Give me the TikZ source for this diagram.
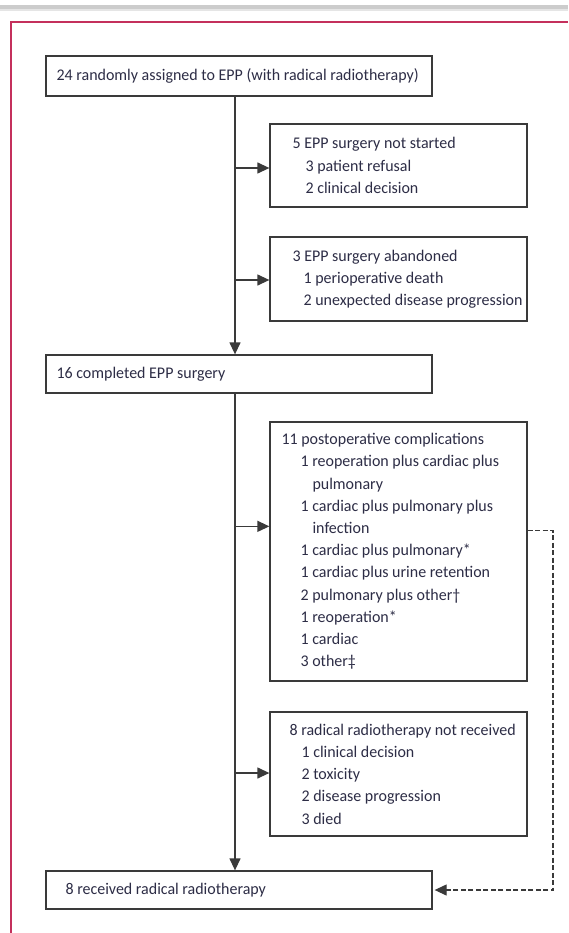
\documentclass[tikz,border=0pt]{standalone}
\usepackage{fontspec}
\setmainfont{Carlito}[FakeStretch=0.98]
\usetikzlibrary{arrows.meta,calc}
\definecolor{frame}{RGB}{196,48,92}
\definecolor{ink}{RGB}{45,45,70}
\definecolor{edge}{RGB}{58,58,58}
\begin{document}
\begin{tikzpicture}[x=1pt,y=-1pt,
  box/.style={draw=edge,line width=1.3pt,inner sep=0pt,fill=white},
  txt/.style={anchor=west,inner sep=0pt,align=left,text=ink,font=\fontsize{16.3}{22.2}\selectfont},
  arr/.style={draw=edge,line width=1.3pt,-{Triangle[length=12pt,width=11pt]}},
  darr/.style={draw=edge,line width=1.2pt,dash pattern=on 5pt off 2.5pt,-{Triangle[length=12pt,width=11pt]},shorten >=2pt}]
\useasboundingbox (0,0) rectangle (568,933);
\fill[white] (0,0) rectangle (568,933);
% top shadow band
\fill[gray!40] (0,5) rectangle (568,9);
\fill[gray!20] (0,9) rectangle (568,11);
% frame
\draw[frame,line width=1.5pt] (568,22) -- (11,22) -- (11,935);
\coordinate (spine) at (235,0);
\coordinate (dr) at (553,0);
% boxes
\node[box,minimum width=386pt,minimum height=40pt] (b1) at (239,76) {};
\node[box,minimum width=257pt,minimum height=83pt] (b2) at (398.5,165.5) {};
\node[box,minimum width=257pt,minimum height=84pt] (b3) at (398.5,279) {};
\node[box,minimum width=386pt,minimum height=38pt] (b4) at (239,374) {};
\node[box,minimum width=257pt,minimum height=259pt] (b5) at (398.5,551.5) {};
\node[box,minimum width=257pt,minimum height=124pt] (b6) at (398.5,774) {};
\node[box,minimum width=386pt,minimum height=38pt] (b7) at (239,890) {};
% texts
\node[txt] (t1) at ($(b1.west)+(11,0)$) {24 randomly assigned to EPP (with radical radiotherapy)};
\node[txt] (t2) at ($(b2.west)+(23,0)$) {5 EPP surgery not started\\\hspace*{13pt}3 patient refusal\\\hspace*{13pt}2 clinical decision};
\node[txt] (t3) at ($(b3.west)+(23,0)$) {3 EPP surgery abandoned\\\hspace*{11pt}1 perioperative death\\\hspace*{11pt}2 unexpected disease progression};
\node[txt] (t4) at ($(b4.west)+(11,0)$) {16 completed EPP surgery};
\node[txt] (t5) at ($(b5.west)+(12,0)$) {11 postoperative complications\\
\hspace*{19pt}1 reoperation plus cardiac plus\\
\hspace*{31pt}pulmonary\\
\hspace*{19pt}1 cardiac plus pulmonary plus\\
\hspace*{31pt}infection\\
\hspace*{19pt}1 cardiac plus pulmonary*\\
\hspace*{19pt}1 cardiac plus urine retention\\
\hspace*{19pt}2 pulmonary plus other†\\
\hspace*{19pt}1 reoperation*\\
\hspace*{19pt}1 cardiac\\
\hspace*{19pt}3 other‡};
\node[txt] (t6) at ($(b6.west)+(20,0)$) {8 radical radiotherapy not received\\\hspace*{12pt}1 clinical decision\\\hspace*{12pt}2 toxicity\\\hspace*{12pt}2 disease progression\\\hspace*{12pt}3 died};
\node[txt] (t7) at ($(b7.west)+(20,0)$) {8 received radical radiotherapy};
% spine
\draw[arr] (b1.south -| spine) -- (b4.north -| spine);
\draw[arr] (b4.south -| spine) -- (b7.north -| spine);
% side arrows
\draw[arr] ($(b2.west -| spine)+(0,2.5)$) -- ($(b2.west)+(0,2.5)$);
\draw[arr] ($(b3.west -| spine)+(0,1)$) -- ($(b3.west)+(0,1)$);
\coordinate (a5) at ($(b5.north west)+(0,105)$);
\draw[arr] (a5 -| spine) -- (a5);
\draw[arr] ($(b6.west -| spine)+(0,-1)$) -- ($(b6.west)+(0,-1)$);
% dashed return
\coordinate (d0) at ($(b5.north east)+(0,109)$);
\draw[darr] (d0) -- (d0 -| dr) -- (dr |- b7.east) -- (b7.east);
\end{tikzpicture}
\end{document}
